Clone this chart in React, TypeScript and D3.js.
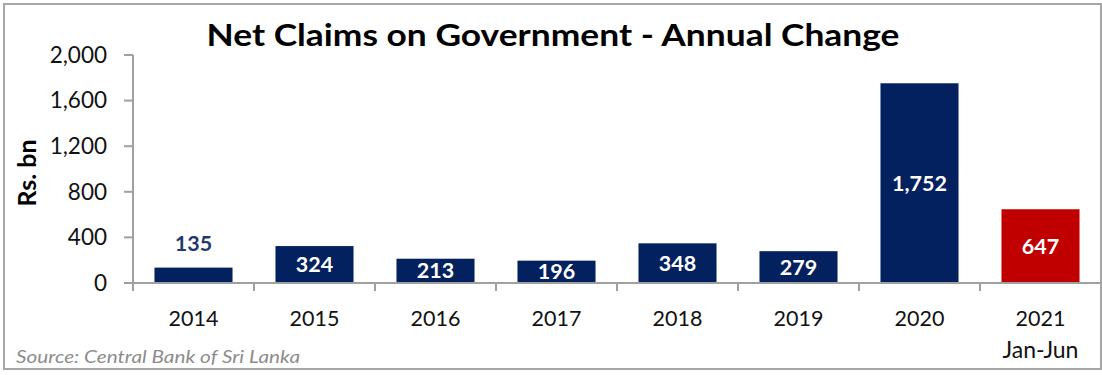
import React from "react";
import * as d3 from "d3";

const categories = ["2014", "2015", "2016", "2017", "2018", "2019", "2020", "2021"];
const subLabels = ["", "", "", "", "", "", "", "Jan-Jun"];
const values = [135, 324, 213, 196, 348, 279, 1752, 647];
const barColors = ["#03215f", "#03215f", "#03215f", "#03215f", "#03215f", "#03215f", "#03215f", "#c00000"];
const yTicks = [0, 400, 800, 1200, 1600, 2000];
const title = "Net Claims on Government - Annual Change";
const yTitle = "Rs. bn";
const source = "Source: Central Bank of Sri Lanka";

const W = 1102;
const H = 375;
const FONT = "Lato, 'Open Sans', sans-serif";

export default function App() {
  const x = d3.scaleBand<string>().domain(categories).range([133, 1101]).paddingInner(0.355).paddingOuter(0.1775);
  const xCat = d3.scaleBand<string>().domain(categories).range([133, 1101]);
  const y = d3.scaleLinear().domain([0, 2000]).range([283, 55]);
  const fmt = d3.format(",");

  return (
    <svg width={W} height={H} style={{ position: "absolute", left: 0, top: 0 }} fontFamily={FONT}>
      <rect x={0} y={0} width={W} height={H} fill="#fff" />
      <rect x={4} y={4} width={1097} height={365} fill="none" stroke="#a6a6a6" strokeWidth={2} />
      <text x={553} y={46} textAnchor="middle" fontSize={31} fontWeight={700} fill="#000" textLength={693} lengthAdjust="spacingAndGlyphs">
        {title}
      </text>
      {/* y axis */}
      <line x1={133} x2={133} y1={y(2000)} y2={y(0)} stroke="#a0a0a0" strokeWidth={2} />
      {yTicks.map((t) => (
        <g key={t}>
          <line x1={124} x2={133} y1={y(t)} y2={y(t)} stroke="#a0a0a0" strokeWidth={2} />
          <text x={107} y={y(t)} dy="0.35em" textAnchor="end" fontSize={22.5} fill="#111">
            {fmt(t)}
          </text>
        </g>
      ))}
      <text transform={`translate(36,173) rotate(-90)`} textAnchor="middle" fontSize={25} fontWeight={700} fill="#000">
        {yTitle}
      </text>
      {/* bars */}
      {categories.map((c, i) => {
        const v = values[i];
        const bx = x(c)!;
        const bw = x.bandwidth();
        const top = y(v);
        const h = y(0) - top;
        const inside = h > 20;
        return (
          <g key={c}>
            <rect x={bx} y={top} width={bw} height={h} fill={barColors[i]} />
            <text
              x={bx + bw / 2}
              y={inside ? top + h / 2 : top - 24}
              dy="0.35em"
              textAnchor="middle"
              fontSize={21.5}
              fontWeight={700}
              fill={inside ? "#fff" : "#1f3a70"}
            >
              {fmt(v)}
            </text>
          </g>
        );
      })}
      {/* x axis */}
      <line x1={133} x2={1101} y1={y(0)} y2={y(0)} stroke="#a0a0a0" strokeWidth={2} />
      {categories.map((c) => (
        <line key={c} x1={xCat(c)!} x2={xCat(c)!} y1={y(0)} y2={y(0) + 8} stroke="#a0a0a0" strokeWidth={2} />
      ))}
      {categories.map((c, i) => (
        <g key={c}>
          <text x={xCat(c)! + xCat.bandwidth() / 2} y={326} textAnchor="middle" fontSize={21.5} fill="#111">
            {c}
          </text>
          {subLabels[i] && (
            <text x={xCat(c)! + xCat.bandwidth() / 2} y={358} textAnchor="middle" fontSize={23} fill="#111">
              {subLabels[i]}
            </text>
          )}
        </g>
      ))}
      <text x={16} y={363} fontSize={17} fontStyle="italic" fill="#8c8c8c" textLength={284} lengthAdjust="spacingAndGlyphs">
        {source}
      </text>
    </svg>
  );
}
